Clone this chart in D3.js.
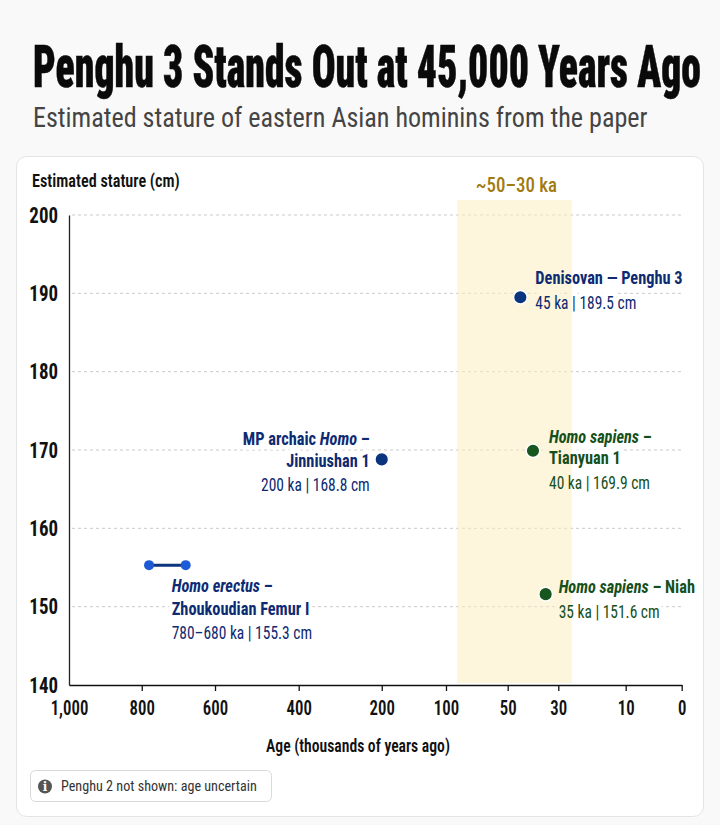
<!DOCTYPE html>
<html><head><meta charset="utf-8">
<script src="https://cdn.jsdelivr.net/npm/d3@7/dist/d3.min.js"></script>
<style>
html,body{margin:0;padding:0;background:#f9f9f9;}
svg{display:block;}
</style></head><body>
<svg id="chart" width="720" height="825"></svg>
<script>
// ---------------- data ----------------
const xTickValues = [1000, 800, 600, 400, 200, 100, 50, 30, 10, 0];
const yTickValues = [140, 150, 160, 170, 180, 190, 200];
const pointKeys = ["penghu3", "jinniushan", "tianyuan", "niah"];
const pointAges = [45, 200, 40, 35];               // ka
const pointStatures = [189.5, 168.8, 169.9, 151.6]; // cm
const pointGroups = ["archaic", "archaic", "sapiens", "sapiens"];
const rangeAges = [780, 680];                       // Zhoukoudian Femur I, ka
const rangeStature = 155.3;                         // cm
const windowAges = [91, 26];                        // shaded window as drawn
const windowLabel = "~50\u201330 ka";
const titleText = "Penghu 3 Stands Out at 45,000 Years Ago";
const subtitleText = "Estimated stature of eastern Asian hominins from the paper";
const yAxisTitle = "Estimated stature (cm)";
const xAxisTitle = "Age (thousands of years ago)";
const noteText = "Penghu 2 not shown: age uncertain";

// ---------------- layout / style ----------------
const FONT = '"Liberation Sans Narrow", "Roboto Condensed", "DejaVu Sans Condensed", "Arial Narrow", sans-serif';
const plot = {left: 69, right: 681.7, top: 215, bottom: 685};
// relative positions of the axis breakpoints along the (non-uniform) age axis
const xKnotFractions = [0, 0.1187, 0.2383, 0.3749, 0.5104, 0.6153, 0.7160, 0.7986, 0.9086, 1];
const colors = {archaic: "#0b347f", sapiens: "#17561e", archaicText: "#0d2a72", sapiensText: "#15501c",
  rangeEnd: "#1d5ad6", band: "#fbeec0", bandText: "#a27a10", grid: "#c9c9c9"};
const LABEL_K = 0.86;   // horizontal condensing of label text

// label specs (style): lines of segments, offsets from the mark
const labelSpecs = {
  penghu3: {anchor: "start", dx: 15, lines: [
    {dy: -13, weight: 700, segs: [["Denisovan \u2014 Penghu 3", false]]},
    {dy: 12, weight: 400, value: true}]},
  jinniushan: {anchor: "end", dx: -12, lines: [
    {dy: -14, weight: 700, segs: [["MP archaic ", false], ["Homo", true], [" \u2013", false]]},
    {dy: 8, weight: 700, segs: [["Jinniushan 1", false]]},
    {dy: 32, weight: 400, value: true}]},
  tianyuan: {anchor: "start", dx: 16, lines: [
    {dy: -8, weight: 700, segs: [["Homo sapiens", true], [" \u2013", false]]},
    {dy: 13, weight: 700, segs: [["Tianyuan 1", false]]},
    {dy: 38, weight: 400, value: true}]},
  niah: {anchor: "start", dx: 13, lines: [
    {dy: -1, weight: 700, segs: [["Homo sapiens", true], [" \u2013 Niah", false]]},
    {dy: 24, weight: 400, value: true}]}
};
const rangeLabel = {anchor: "start", dx: -14, lines: [
  {dy: 27, weight: 700, segs: [["Homo erectus", true], [" \u2013", false]]},
  {dy: 50, weight: 700, segs: [["Zhoukoudian Femur I", false]]},
  {dy: 74, weight: 400, value: true}]};

// ---------------- scales ----------------
const x = d3.scaleLinear()
  .domain(xTickValues)
  .range(xKnotFractions.map(f => plot.left + f * (plot.right - plot.left)));
const y = d3.scaleLinear().domain([140, 200]).range([plot.bottom, plot.top]);

const svg = d3.select("#chart").style("font-family", FONT);

function condense(t, k) {
  const x0 = +t.attr("x") || 0, y0 = +t.attr("y") || 0;
  t.attr("transform", `translate(${x0},${y0}) scale(${k},1) translate(${-x0},${-y0})`);
}
function fitWidth(t, target) {
  const w = t.node().getComputedTextLength();
  condense(t, target / w);
}

// card
svg.append("rect").attr("x", 16.5).attr("y", 156.5).attr("width", 687).attr("height", 660)
  .attr("rx", 10).attr("fill", "#fff").attr("stroke", "#e4e4e4");

// title + subtitle
const title = svg.append("text").attr("x", 33).attr("y", 87).text(titleText)
  .attr("font-size", 59).attr("font-weight", 900).attr("fill", "#0a0a0a")
  .attr("stroke", "#0a0a0a").attr("stroke-width", 0.5);
fitWidth(title, 668);
const subtitle = svg.append("text").attr("x", 33).attr("y", 127).text(subtitleText)
  .attr("font-size", 28).attr("font-weight", 400).attr("fill", "#444");
fitWidth(subtitle, 615);

// grid
svg.append("g").selectAll("line").data(yTickValues.filter(v => v > 140)).join("line")
  .attr("x1", plot.left + 3).attr("x2", plot.right)
  .attr("y1", d => y(d)).attr("y2", d => y(d))
  .attr("stroke", colors.grid).attr("stroke-dasharray", "3,3").attr("stroke-width", 1);

// label builder
function buildLabel(g, spec, px, py, color, valueStr, halo) {
  const lg = g.append("g").attr("transform", `translate(${px + spec.dx},${py}) scale(${LABEL_K},1)`);
  spec.lines.forEach(line => {
    const t = lg.append("text").attr("text-anchor", spec.anchor)
      .attr("x", 0).attr("y", line.dy)
      .attr("font-weight", line.weight).attr("font-size", line.value ? 18 : 19)
      .attr("fill", halo ? "#fff" : color);
    if (halo) t.attr("stroke", "#fff").attr("stroke-width", 9).attr("stroke-linejoin", "round");
    if (line.value) t.text(valueStr);
    else line.segs.forEach(([s, it]) => t.append("tspan").text(s).attr("font-style", it ? "italic" : "normal"));
  });
}
const valueText = i => `${pointAges[i]} ka | ${pointStatures[i]} cm`;
const rangeValueStr = `${rangeAges[0]}\u2013${rangeAges[1]} ka | ${rangeStature} cm`;

const halos = svg.append("g");
pointKeys.forEach((k, i) => buildLabel(halos, labelSpecs[k], x(pointAges[i]), y(pointStatures[i]), "#fff", valueText(i), true));
buildLabel(halos, rangeLabel, x(rangeAges[1]), y(rangeStature), "#fff", rangeValueStr, true);

// shaded window
svg.append("rect")
  .attr("x", x(windowAges[0])).attr("width", x(windowAges[1]) - x(windowAges[0]))
  .attr("y", plot.top - 15).attr("height", plot.bottom - 2 - (plot.top - 15))
  .attr("fill", colors.band).attr("opacity", 0.55);
const wl = svg.append("text").attr("x", (x(windowAges[0]) + x(windowAges[1])) / 2 + 2).attr("y", 192)
  .attr("text-anchor", "middle").attr("font-size", 21).attr("font-weight", 500)
  .attr("fill", colors.bandText).text(windowLabel);
condense(wl, 0.9);

// axes
const yAxis = svg.append("g").attr("transform", `translate(${plot.left},0)`)
  .call(d3.axisLeft(y).tickValues(yTickValues).tickSize(0).tickPadding(11));
yAxis.select(".domain").attr("stroke", "#222").attr("stroke-width", 1.3);
yAxis.selectAll("text").attr("font-family", FONT).attr("font-size", 22.5).attr("font-weight", 700).attr("fill", "#111")
  .each(function () { condense(d3.select(this), 0.84); });

const xAxis = svg.append("g").attr("transform", `translate(0,${plot.bottom})`)
  .call(d3.axisBottom(x).tickValues(xTickValues).tickSizeInner(6).tickSizeOuter(0)
    .tickPadding(10).tickFormat(d3.format(",")));
xAxis.select(".domain").attr("stroke", "#111").attr("stroke-width", 1.6);
xAxis.selectAll(".tick line").attr("stroke", "#111").attr("stroke-width", 1.3);
xAxis.selectAll(".tick").filter(d => d === 1000).select("line").remove();
xAxis.selectAll("text").attr("font-family", FONT).attr("font-size", 20).attr("font-weight", 600).attr("fill", "#111")
  .each(function () { condense(d3.select(this), 0.84); });

const yt = svg.append("text").attr("x", 32).attr("y", 187).text(yAxisTitle)
  .attr("font-size", 17.5).attr("font-weight", 600).attr("fill", "#111");
fitWidth(yt, 148);
const xt = svg.append("text").attr("x", 358).attr("y", 752).attr("text-anchor", "middle").text(xAxisTitle)
  .attr("font-size", 19).attr("font-weight", 600).attr("fill", "#111");
condense(xt, 184 / xt.node().getComputedTextLength());

// range mark (Homo erectus)
const marks = svg.append("g");
marks.append("line")
  .attr("x1", x(rangeAges[0])).attr("x2", x(rangeAges[1]))
  .attr("y1", y(rangeStature)).attr("y2", y(rangeStature))
  .attr("stroke", colors.archaic).attr("stroke-width", 3);
marks.selectAll("circle.end").data(rangeAges).join("circle").attr("class", "end")
  .attr("cx", d => x(d)).attr("cy", y(rangeStature)).attr("r", 5)
  .attr("fill", colors.rangeEnd);

// points
marks.selectAll("circle.pt").data(pointKeys).join("circle").attr("class", "pt")
  .attr("cx", (d, i) => x(pointAges[i])).attr("cy", (d, i) => y(pointStatures[i]))
  .attr("r", 6.8).attr("fill", (d, i) => colors[pointGroups[i]])
  .attr("stroke", "#fff").attr("stroke-width", 1.5);

// labels
const labels = svg.append("g");
pointKeys.forEach((k, i) => buildLabel(labels, labelSpecs[k], x(pointAges[i]), y(pointStatures[i]),
  colors[pointGroups[i] + "Text"], valueText(i), false));
buildLabel(labels, rangeLabel, x(rangeAges[1]), y(rangeStature), colors.archaicText, rangeValueStr, false);

// note box
const note = svg.append("g");
note.append("rect").attr("x", 30.5).attr("y", 770.5).attr("width", 241).attr("height", 31)
  .attr("rx", 5).attr("fill", "#fff").attr("stroke", "#d9d9d9");
note.append("circle").attr("cx", 45).attr("cy", 786.5).attr("r", 7).attr("fill", "#555");
note.append("text").attr("x", 45).attr("y", 791).attr("text-anchor", "middle")
  .attr("font-size", 12).attr("font-weight", 700).attr("fill", "#fff")
  .attr("font-family", "DejaVu Serif, serif").text("i");
const nt = svg.append("text").attr("x", 61).attr("y", 791.5).text(noteText)
  .attr("font-size", 15.5).attr("fill", "#333");
fitWidth(nt, 196);
</script>
</body></html>
